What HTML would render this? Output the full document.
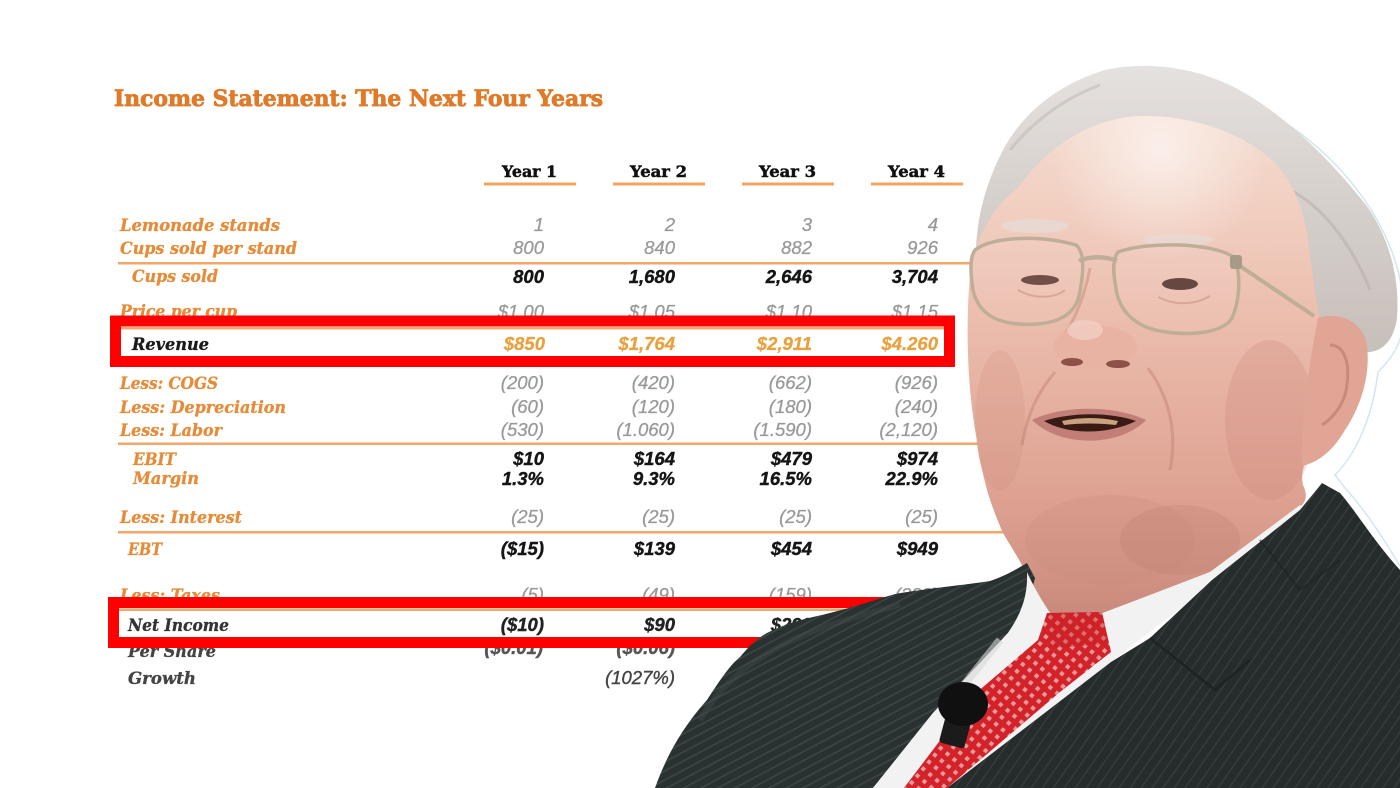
<!DOCTYPE html>
<html>
<head>
<meta charset="utf-8">
<style>
html,body{margin:0;padding:0;background:#fff;}
svg{display:block;}
.lab{font-family:"DejaVu Serif","Liberation Serif",serif;font-weight:bold;font-style:italic;font-size:17px;fill:#e58c3a;stroke:#e58c3a;stroke-width:0.35px;}
.gv{font-family:"Liberation Sans",sans-serif;font-style:italic;font-size:18.5px;fill:#999;stroke:#999;stroke-width:0.3px;}
.bv{font-family:"Liberation Sans",sans-serif;font-style:italic;font-weight:bold;font-size:18.5px;fill:#151515;stroke:#151515;stroke-width:0.4px;}
.ov{font-family:"Liberation Sans",sans-serif;font-style:italic;font-weight:bold;font-size:18.5px;fill:#e9a13e;stroke:#e9a13e;stroke-width:0.3px;}
.hd{font-family:"DejaVu Serif","Liberation Serif",serif;font-weight:bold;font-size:16px;fill:#111;stroke:#111;stroke-width:0.5px;}
</style>
</head>
<body>
<svg width="1400" height="788" viewBox="0 0 1400 788" xmlns="http://www.w3.org/2000/svg">
<defs>
  <linearGradient id="skin" x1="0" y1="110" x2="0" y2="615" gradientUnits="userSpaceOnUse">
    <stop offset="0" stop-color="#f5ddd1"/>
    <stop offset="0.25" stop-color="#f0cbbc"/>
    <stop offset="0.55" stop-color="#e7b2a2"/>
    <stop offset="0.8" stop-color="#dc9f8f"/>
    <stop offset="1" stop-color="#c98a7c"/>
  </linearGradient>
  <radialGradient id="fhl" cx="1160" cy="150" r="110" gradientUnits="userSpaceOnUse">
    <stop offset="0" stop-color="#fff" stop-opacity="0.6"/>
    <stop offset="1" stop-color="#fff" stop-opacity="0"/>
  </radialGradient>
  <linearGradient id="hair" x1="0" y1="60" x2="0" y2="340" gradientUnits="userSpaceOnUse">
    <stop offset="0" stop-color="#e6e2df"/>
    <stop offset="0.5" stop-color="#d6d0cc"/>
    <stop offset="1" stop-color="#c8c0bb"/>
  </linearGradient>
  <pattern id="stl" width="8" height="8" patternUnits="userSpaceOnUse" patternTransform="rotate(-28)">
    <rect width="8" height="8" fill="#2a3131"/>
    <rect width="8" height="1.6" fill="#3c4545"/>
  </pattern>
  <pattern id="str" width="9" height="9" patternUnits="userSpaceOnUse" patternTransform="rotate(-55)">
    <rect width="9" height="9" fill="#262c2c"/>
    <rect width="9" height="1.4" fill="#343c3c"/>
  </pattern>
  <pattern id="tie" width="9" height="9" patternUnits="userSpaceOnUse" patternTransform="rotate(40)">
    <rect width="9" height="9" fill="#d3222a"/>
    <rect x="2.5" y="2.5" width="4" height="4" fill="#e59a98"/>
  </pattern>
</defs>

<rect width="1400" height="788" fill="#ffffff"/>

<!-- Title -->
<text x="114" y="106" font-family="DejaVu Serif, Liberation Serif, serif" font-weight="bold" font-size="22" fill="#e07a28" stroke="#e07a28" stroke-width="0.8" textLength="489" lengthAdjust="spacingAndGlyphs">Income Statement: The Next Four Years</text>

<!-- Headers -->
<text class="hd" x="502" y="177" textLength="55" lengthAdjust="spacingAndGlyphs">Year 1</text>
<text class="hd" x="630" y="177" textLength="57" lengthAdjust="spacingAndGlyphs">Year 2</text>
<text class="hd" x="759" y="177" textLength="57" lengthAdjust="spacingAndGlyphs">Year 3</text>
<text class="hd" x="888" y="177" textLength="57" lengthAdjust="spacingAndGlyphs">Year 4</text>
<g fill="#f0a462">
  <rect x="484" y="182.5" width="92" height="3"/>
  <rect x="613" y="182.5" width="92" height="3"/>
  <rect x="742" y="182.5" width="92" height="3"/>
  <rect x="871" y="182.5" width="92" height="3"/>
</g>

<!-- horizontal rules -->
<g fill="#f2a66a">
  <rect x="118" y="262" width="900" height="2.5"/>
  <rect x="121" y="327" width="823" height="2.5"/>
  <rect x="118" y="442.5" width="900" height="2.5"/>
  <rect x="118" y="531" width="900" height="2.5"/>
  <rect x="119" y="608.5" width="850" height="2.5"/>
</g>

<!-- Labels -->
<text class="lab" x="120" y="231" textLength="160" lengthAdjust="spacingAndGlyphs">Lemonade stands</text>
<text class="lab" x="120" y="254" textLength="177" lengthAdjust="spacingAndGlyphs">Cups sold per stand</text>
<text class="lab" x="132" y="282" textLength="86" lengthAdjust="spacingAndGlyphs">Cups sold</text>
<text class="lab" x="120" y="317" textLength="117" lengthAdjust="spacingAndGlyphs">Price per cup</text>
<text class="lab" x="132" y="350" textLength="77" lengthAdjust="spacingAndGlyphs" style="fill:#1a1a1a;stroke:#1a1a1a">Revenue</text>
<text class="lab" x="120" y="389" textLength="98" lengthAdjust="spacingAndGlyphs">Less: COGS</text>
<text class="lab" x="120" y="413" textLength="166" lengthAdjust="spacingAndGlyphs">Less: Depreciation</text>
<text class="lab" x="120" y="436" textLength="102" lengthAdjust="spacingAndGlyphs">Less: Labor</text>
<text class="lab" x="133" y="465" textLength="43" lengthAdjust="spacingAndGlyphs">EBIT</text>
<text class="lab" x="133" y="484" textLength="66" lengthAdjust="spacingAndGlyphs">Margin</text>
<text class="lab" x="120" y="523" textLength="122" lengthAdjust="spacingAndGlyphs">Less: Interest</text>
<text class="lab" x="128" y="555" textLength="34" lengthAdjust="spacingAndGlyphs">EBT</text>
<text class="lab" x="120" y="601" textLength="100" lengthAdjust="spacingAndGlyphs">Less: Taxes</text>
<text class="lab" x="128" y="631" textLength="101" lengthAdjust="spacingAndGlyphs" style="fill:#333;stroke:#333">Net Income</text>
<text class="lab" x="128" y="657" textLength="88" lengthAdjust="spacingAndGlyphs" style="fill:#444;stroke:#444">Per Share</text>
<text class="lab" x="128" y="684" textLength="68" lengthAdjust="spacingAndGlyphs" style="fill:#444;stroke:#444">Growth</text>

<!-- Values -->
<g text-anchor="end">
  <g class="gv">
    <text x="544" y="231">1</text><text x="675" y="231">2</text><text x="812" y="231">3</text><text x="938" y="231">4</text>
    <text x="544" y="254">800</text><text x="675" y="254">840</text><text x="812" y="254">882</text><text x="938" y="254">926</text>
    <text x="544" y="318">$1.00</text><text x="675" y="318">$1.05</text><text x="812" y="318">$1.10</text><text x="938" y="318">$1.15</text>
    <text x="544" y="389">(200)</text><text x="675" y="389">(420)</text><text x="812" y="389">(662)</text><text x="938" y="389">(926)</text>
    <text x="544" y="413">(60)</text><text x="675" y="413">(120)</text><text x="812" y="413">(180)</text><text x="938" y="413">(240)</text>
    <text x="544" y="436">(530)</text><text x="675" y="436">(1.060)</text><text x="812" y="436">(1.590)</text><text x="938" y="436">(2,120)</text>
    <text x="544" y="523">(25)</text><text x="675" y="523">(25)</text><text x="812" y="523">(25)</text><text x="938" y="523">(25)</text>
    <text x="544" y="601">(5)</text><text x="675" y="601">(49)</text><text x="812" y="601">(159)</text><text x="938" y="601">(332)</text>
  </g>
  <g class="bv">
    <text x="544" y="283">800</text><text x="675" y="283">1,680</text><text x="812" y="283">2,646</text><text x="938" y="283">3,704</text>
    <text x="544" y="465">$10</text><text x="675" y="465">$164</text><text x="812" y="465">$479</text><text x="938" y="465">$974</text>
    <text x="544" y="485">1.3%</text><text x="675" y="485">9.3%</text><text x="812" y="485">16.5%</text><text x="938" y="485">22.9%</text>
    <text x="544" y="555">($15)</text><text x="675" y="555">$139</text><text x="812" y="555">$454</text><text x="938" y="555">$949</text>
    <text x="544" y="631" style="fill:#222;stroke:#222">($10)</text><text x="675" y="631" style="fill:#222;stroke:#222">$90</text><text x="812" y="631" style="fill:#222;stroke:#222">$299</text>
    <text x="543" y="654" style="fill:#555;stroke:#555">($0.01)</text><text x="675" y="654" style="fill:#555;stroke:#555">($0.06)</text>
    <text x="675" y="684" style="fill:#444;stroke:#444;font-weight:normal">(1027%)</text>
  </g>
  <g class="ov">
    <text x="545" y="350">$850</text><text x="675" y="350">$1,764</text><text x="812" y="350">$2,911</text><text x="938" y="350">$4.260</text>
  </g>
</g>

<!-- Red boxes -->
<rect x="115.5" y="321" width="834" height="40.5" fill="none" stroke="#ff0000" stroke-width="11"/>
<rect x="113.5" y="602.5" width="776" height="40" fill="none" stroke="#ff0000" stroke-width="11"/>

<!-- ===== Person ===== -->
<path d="M1205,88 C1260,100 1310,135 1345,175 C1380,215 1405,265 1404,320 C1402,345 1390,360 1378,372 C1372,420 1355,455 1335,475 L1345,488 C1370,515 1390,550 1400,566" fill="none" stroke="#cfe8ee" stroke-width="1.5"/>

<!-- hair silhouette -->
<path d="M976,262 C975,222 985,185 1003,150 C1022,114 1058,84 1105,70 C1150,60 1205,68 1248,95 C1290,120 1332,162 1366,205 C1390,238 1400,280 1397,318 C1394,338 1385,350 1370,352 L1320,352 L990,300 Z" fill="url(#hair)"/>
<path d="M1290,190 C1320,205 1350,240 1370,290" fill="none" stroke="#b5aca7" stroke-width="3" opacity="0.5"/>
<path d="M1010,150 C1030,125 1060,100 1100,85" fill="none" stroke="#bdb5b0" stroke-width="3" opacity="0.5"/>

<!-- face & neck skin -->
<path d="M970,275 C975,235 995,205 1018,188 C1045,150 1082,124 1127,117 C1172,112 1226,125 1262,152 C1290,172 1303,205 1308,240 C1312,272 1316,300 1322,330 L1318,440 C1305,460 1300,470 1303,485 C1308,495 1306,502 1300,507 L1210,573 L1100,614 L1050,613 C1040,600 1032,585 1023,567 C1015,552 1008,542 1003,533 C995,515 990,500 987,490 C982,470 978,455 977,440 C968,395 965,330 970,275 Z" fill="url(#skin)"/>
<path d="M970,275 C975,235 995,205 1018,188 C1045,150 1082,124 1127,117 C1172,112 1226,125 1262,152 C1290,172 1303,205 1308,240 L1310,300 L972,300 Z" fill="url(#fhl)"/>
<ellipse cx="1270" cy="420" rx="45" ry="80" fill="#c98576" opacity="0.25"/>
<ellipse cx="1000" cy="420" rx="25" ry="70" fill="#c98576" opacity="0.18"/>
<ellipse cx="1110" cy="540" rx="85" ry="45" fill="#c78a7c" opacity="0.25"/>
<ellipse cx="1180" cy="540" rx="60" ry="35" fill="#b87a6c" opacity="0.25"/>

<!-- ear -->
<path d="M1318,318 C1335,312 1358,318 1366,340 C1372,370 1362,405 1345,430 C1335,448 1320,462 1302,466 C1300,430 1308,370 1318,318 Z" fill="#e0a595"/>
<path d="M1330,345 C1345,345 1352,365 1345,395 C1340,410 1330,420 1322,425" fill="none" stroke="#b87868" stroke-width="3" opacity="0.6"/>

<!-- eyebrows -->
<ellipse cx="1035" cy="226" rx="34" ry="7" fill="#e4ddd9" opacity="0.7"/>
<ellipse cx="1178" cy="240" rx="36" ry="6" fill="#e4ddd9" opacity="0.6"/>

<!-- eyes -->
<ellipse cx="1040" cy="280" rx="19" ry="5" fill="#6a453d"/>
<ellipse cx="1180" cy="284" rx="18" ry="6" fill="#5e3d36"/>
<path d="M1018,290 C1035,300 1055,298 1065,290" fill="none" stroke="#c88e80" stroke-width="2" opacity="0.6"/>
<path d="M1158,297 C1175,306 1195,305 1210,296" fill="none" stroke="#c88e80" stroke-width="2" opacity="0.6"/>

<!-- nose -->
<path d="M1090,268 C1085,295 1075,320 1062,338" fill="none" stroke="#c88a7c" stroke-width="3" opacity="0.5"/>
<ellipse cx="1095" cy="347" rx="42" ry="22" fill="#e9b3a3"/>
<ellipse cx="1085" cy="330" rx="18" ry="10" fill="#f4d2c6" opacity="0.7"/>
<ellipse cx="1072" cy="362" rx="11" ry="4" fill="#8d5148"/>
<ellipse cx="1118" cy="364" rx="12" ry="4" fill="#8d5148"/>
<path d="M1055,372 C1040,390 1028,410 1022,445" fill="none" stroke="#c07e70" stroke-width="3" opacity="0.45"/>
<path d="M1148,368 C1168,395 1178,430 1170,470" fill="none" stroke="#c07e70" stroke-width="3" opacity="0.45"/>

<!-- mouth -->
<path d="M1032,420 C1060,406 1112,404 1146,420 C1120,447 1060,448 1032,420 Z" fill="#c27f77"/>
<path d="M1044,421 C1072,412 1110,412 1136,421 C1110,434 1070,436 1044,421 Z" fill="#3a1a14"/>
<path d="M1062,421 C1080,417 1100,417 1118,421 L1116,425 C1098,423 1080,423 1064,425 Z" fill="#c9a27f"/>

<!-- glasses -->
<g fill="none" stroke="#bfae97" stroke-width="3.5">
  <path d="M975,250 C992,236 1042,235 1076,245 C1085,252 1084,272 1079,296 C1073,320 1048,326 1018,324 C994,322 978,312 973,290 C970,270 970,257 975,250 Z" fill="#ffffff" fill-opacity="0.06"/>
  <path d="M1118,252 C1150,241 1210,243 1232,256 C1242,268 1240,300 1232,318 C1222,334 1188,336 1160,331 C1138,327 1122,314 1117,294 C1113,274 1112,260 1118,252 Z" fill="#ffffff" fill-opacity="0.06"/>
  <path d="M1079,261 C1090,256 1105,256 1117,261" stroke-width="4.5"/>
  <path d="M1234,262 L1314,316" stroke-width="4"/>
</g>
<rect x="1230" y="255" width="12" height="14" rx="3" fill="#a89a88"/>

<!-- left suit -->
<path d="M655,788 C665,760 680,730 707,700 C720,680 730,665 740,657 C750,645 758,638 767,633 C785,624 800,620 813,617 C845,610 875,600 895,594 C930,588 965,585 990,581 C1005,576 1015,570 1027,563 L1035,578 C1030,600 1020,615 1008,633 L933,713 L873,788 Z" fill="url(#stl)"/>
<path d="M700,720 C740,650 820,625 900,605" fill="none" stroke="#475151" stroke-width="6" opacity="0.35"/>

<!-- shirt -->
<path d="M1027,572 C1035,590 1045,605 1050,613 L1100,614 L1210,572 L1300,505 L1305,512 L1215,582 L1111,662 L947,788 L873,788 L933,713 L1008,633 C1020,615 1028,598 1027,572 Z" fill="#f2f2f2"/>
<path d="M1000,640 L960,690" stroke="#d8d8d8" stroke-width="8" opacity="0.6"/>

<!-- tie -->
<path d="M1047,613 L1102,612 L1111,652 L1060,692 L947,788 L904,788 L976,693 L1038,640 Z" fill="url(#tie)"/>
<path d="M1047,613 L1102,612 L1108,645 L1050,648 Z" fill="#c51f26" opacity="0.35"/>

<!-- right suit -->
<path d="M947,788 L1111,662 L1150,638 L1212,580 L1300,510 L1322,483 L1340,493 C1355,510 1373,540 1400,570 L1400,788 Z" fill="url(#str)"/>
<path d="M1150,638 L1215,690 L1250,660" fill="none" stroke="#1c2121" stroke-width="2.5" opacity="0.8"/>
<path d="M1260,540 L1300,590 L1340,560" fill="none" stroke="#1c2121" stroke-width="2" opacity="0.6"/>

<!-- microphone -->
<rect x="942" y="718" width="26" height="28" rx="3" fill="#1b1b1b" transform="rotate(15 955 732)"/>
<ellipse cx="963" cy="704" rx="25" ry="22" fill="#101010"/>
</svg>
</body>
</html>
